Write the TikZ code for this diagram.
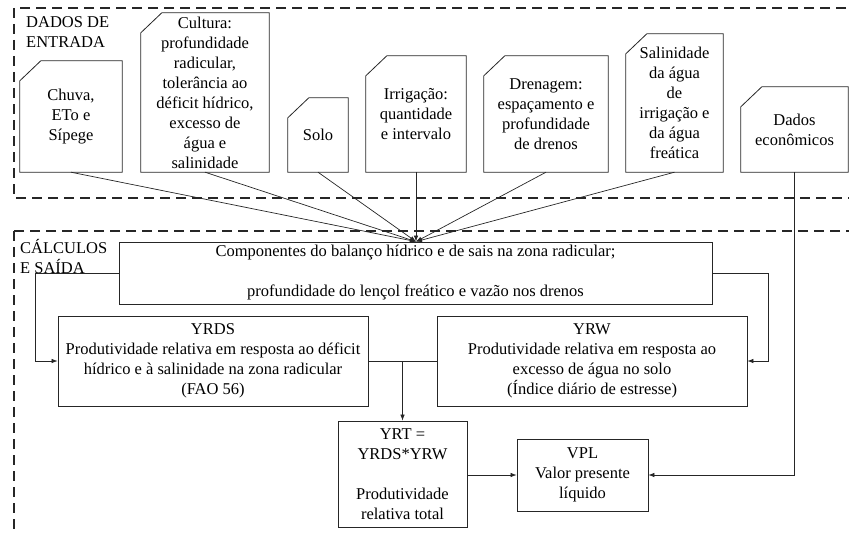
\documentclass[tikz,border=0pt]{standalone}
\usepackage{fontspec}
\setmainfont{LiberationSerif}[Extension=.ttf,UprightFont=*-Regular,BoldFont=*-Bold,ItalicFont=*-Italic,BoldItalicFont=*-BoldItalic]
\usetikzlibrary{arrows.meta,calc}
\begin{document}
\begin{tikzpicture}[x=1pt,y=-1pt,
  font=\fontsize{16.5}{20}\selectfont,
  box/.style={draw=black!85, line width=0.8pt, align=center, inner sep=2pt},
  inbox/.style={align=center, inner sep=2pt},
  conn/.style={draw=black!85, line width=0.7pt},
  arr/.style={conn, -{Latex[length=6pt,width=4.5pt]}},
  region/.style={draw=black!85, line width=1.1pt, dash pattern=on 10pt off 6pt},
  lbl/.style={anchor=base west, inner sep=0pt}]
\useasboundingbox (0,0) rectangle (849,535);

% dashed regions
\draw[region] (14,8) rectangle (880,198);
\draw[region] (14,231) rectangle (880,570);
\node[lbl] (lblin) at (26,28) {\vtop{\hbox{DADOS DE}\hbox{ENTRADA}}};
\node[lbl] (lblout) at (20,253) {\vtop{\hbox{CÁLCULOS}\hbox{E SAÍDA}}};

% input nodes
\node[inbox, minimum width=102pt, minimum height=111pt] (chuva) at (71,116.5) {Chuva,\\ETo e\\Sípege};
\node[inbox, minimum width=128pt, minimum height=159pt] (cultura) at (205,92.5) {Cultura:\\profundidade\\radicular,\\tolerância ao\\déficit hídrico,\\excesso de\\água e\\salinidade};
\node[inbox, minimum width=60pt, minimum height=74pt] (solo) at (318,135) {Solo};
\node[inbox, minimum width=100pt, minimum height=116pt] (irrig) at (416,114) {Irrigação:\\quantidade\\e intervalo};
\node[inbox, minimum width=124pt, minimum height=116pt] (dren) at (546,114) {Drenagem:\\espaçamento e\\profundidade\\de drenos};
\node[inbox, minimum width=97pt, minimum height=138pt] (salin) at (674.5,103) {Salinidade\\da água\\de\\irrigação e\\da água\\freática};
\node[inbox, minimum width=107pt, minimum height=85pt] (econ) at (794.5,129.5) {Dados\\econômicos};

\foreach \n in {chuva,cultura,solo,irrig,dren,salin,econ}
  \draw[box] (\n.south west) -- ($(\n.north west)+(0,20)$) -- ($(\n.north west)+(21,0)$)
    -- (\n.north east) -- (\n.south east) -- cycle;

% calculation nodes
\node[box, minimum width=593pt, minimum height=62pt] (comp) at (415.5,273)
  {Componentes do balanço hídrico e de sais na zona radicular;\\[20pt]profundidade do lençol freático e vazão nos drenos};
\node[box, minimum width=310pt, minimum height=90pt] (yrds) at (213,361)
  {YRDS\\Produtividade relativa em resposta ao déficit\\hídrico e à salinidade na zona radicular\\(FAO 56)};
\node[box, minimum width=310pt, minimum height=90pt] (yrw) at (592,361)
  {YRW\\Produtividade relativa em resposta ao\\excesso de água no solo\\(Índice diário de estresse)};
\node[box, minimum width=129pt, minimum height=106pt] (yrt) at (402.5,474)
  {YRT =\\YRDS*YRW\\[20pt]Produtividade\\relativa total};
\node[box, minimum width=131pt, minimum height=72pt] (vpl) at (582.5,475)
  {VPL\\Valor presente\\líquido};

% connectors
\coordinate (P) at (irrig.south |- comp.north);
\foreach \n in {chuva,cultura,solo,irrig,dren,salin}
  \draw[arr] (\n.south) -- (P);
\draw[arr] (comp.west) -- ++(-83,0) |- (yrds.west);
\draw[arr] (comp.east) -- ++(56,0) |- (yrw.east);
\coordinate (M) at (yrt.north |- yrds.east);
\draw[conn] (yrds.east) -- (M);
\draw[conn] (yrw.west) -- (M);
\draw[arr] (M) -- (yrt.north);
\draw[arr] (yrt.east |- vpl.west) -- (vpl.west);
\draw[arr] (econ.south) |- (vpl.east);
\end{tikzpicture}
\end{document}
